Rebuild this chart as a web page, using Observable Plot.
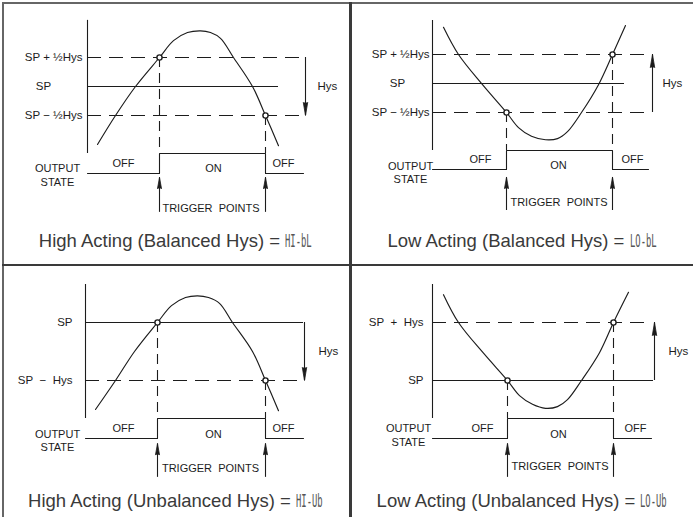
<!DOCTYPE html>
<html><head><meta charset="utf-8">
<script src="https://cdn.jsdelivr.net/npm/d3@7"></script>
<script src="https://cdn.jsdelivr.net/npm/@observablehq/plot@0.6"></script>
<style>
body{margin:0;background:#fff;}
#root{position:relative;width:693px;height:517px;overflow:hidden;font-family:"Liberation Sans",Arial,Helvetica,sans-serif;background:#fff;}
.panel{position:absolute;overflow:visible;}
.panel svg{position:absolute;left:0;top:0;overflow:visible;background:transparent;}
.cap{position:absolute;left:0;right:0;text-align:center;font-size:18.5px;line-height:20px;color:#3a3a3a;white-space:nowrap;}
.segw{display:inline-block;width:28px;text-align:left;overflow:visible;vertical-align:baseline;}
.seg{display:inline-block;font-family:"DejaVu Sans Mono",monospace;font-size:17px;font-weight:normal;transform:scaleX(0.52);transform-origin:0 50%;color:#555;}
.bar{position:absolute;background:#3a3a3a;}
</style></head><body><div id="root"></div>
<script>
// ---------- data ----------
const captions = ["High Acting (Balanced Hys) = ", "Low Acting (Balanced Hys) = ",
                  "High Acting (Unbalanced Hys) = ", "Low Acting (Unbalanced Hys) = "];
const modeCodes = ["HI-bL", "LO-bL", "HI-Ub", "LO-Ub"];

// threshold labels and their values (in Hys units relative to SP)
const levelLabelsBal = ["SP + ½Hys", "SP", "SP − ½Hys"];
const levelValuesBal = [0.5, 0, -0.5];
const levelLabelsHighUnb = ["SP", "SP\u00a0 −\u00a0 Hys"];
const levelValuesHighUnb = [0, -1];
const levelLabelsLowUnb = ["SP\u00a0 +\u00a0 Hys", "SP"];
const levelValuesLowUnb = [1, 0];

// process value curves: [time, value]
const curveHighBal = [[10,-1.0],[28,-0.5],[48,0.0],[72,0.5],[86,0.79],[100,0.93],[113,0.96],[123,0.93],[133,0.83],[146,0.5],[165,0.0],[178,-0.5],[191,-1.02]];
const curveLowBal  = [[11,0.97],[26,0.5],[50,-0.02],[74,-0.5],[86,-0.76],[99,-0.91],[113,-0.97],[125,-0.95],[135,-0.83],[149,-0.5],[166,-0.02],[180,0.5],[193,1.0]];
const curveHighUnb = [[10,-1.5],[30,-1.0],[49,-0.5],[72,0.0],[86,0.29],[100,0.43],[112,0.46],[123,0.43],[134,0.33],[147,0.0],[167,-0.5],[180,-1.0],[193,-1.52]];
const curveLowUnb  = [[11,1.48],[26,1.0],[51,0.47],[75,0.0],[87,-0.26],[100,-0.41],[113,-0.48],[125,-0.45],[135,-0.33],[149,0.0],[167,0.48],[181,1.0],[196,1.52]];

// trigger times and the threshold value reached at each trigger
const trigHighBal = [72, 178], trigLevelsHighBal = [0.5, -0.5];
const trigLowBal  = [74, 180], trigLevelsLowBal  = [-0.5, 0.5];
const trigHighUnb = [72, 180], trigLevelsHighUnb = [0, -1];
const trigLowUnb  = [75, 181], trigLevelsLowUnb  = [0, 1];

const stateNames = ["OFF", "ON", "OFF"];
const outputLabel = ["OUTPUT", "STATE"];
const triggerLabel = "TRIGGER\u00a0\u00a0POINTS";
const hysLabel = "Hys";

// ---------- layout (pixels / value-unit placements) ----------
const layouts = [
  {left:3, top:3, w:346, h:225, capTop:228, xr:[84,300], xd:[0,216], spPx:83,
   axisTop:1.14, on:-1.155, off:-1.5, dashEnd:216, solidEnd:191, outEnd:216, arrowT:218, hysT:230, labelT:-5, spT:-44,
   stateT:[36,126,196], stateV:[-1.33,-1.41,-1.33], outT:-30, outV:[-1.41,-1.655],
   trigTip:-1.57, trigBot:-2.17, trigTextT:123.5, trigTextV:-2.10},
  {left:352, top:3, w:341, h:225, capTop:228, xr:[80,298], xd:[0,218], spPx:80,
   axisTop:1.086, on:-1.155, off:-1.483, dashEnd:218, solidEnd:192, outEnd:216, arrowT:220, hysT:230, labelT:-3, spT:-35,
   stateT:[48,126,200], stateV:[-1.31,-1.41,-1.31], outT:-22, outV:[-1.43,-1.655],
   trigTip:-1.62, trigBot:-2.19, trigTextT:126.5, trigTextV:-2.05},
  {left:3, top:266, w:346, h:214, capTop:225, xr:[82,300], xd:[0,218], spPx:56,
   axisTop:0.655, on:-1.655, off:-2.0, dashEnd:218, solidEnd:218, outEnd:218, arrowT:219, hysT:233, labelT:-13, spT:null,
   stateT:[38,128,198], stateV:[-1.83,-1.93,-1.83], outT:-28, outV:[-1.93,-2.155],
   trigTip:-2.09, trigBot:-2.67, trigTextT:125, trigTextV:-2.52},
  {left:352, top:266, w:341, h:214, capTop:225, xr:[80,298], xd:[0,218], spPx:114,
   axisTop:1.655, on:-0.655, off:-1.0, dashEnd:218, solidEnd:221, outEnd:219, arrowT:222, hysT:236, labelT:-9, spT:null,
   stateT:[50,126,203], stateV:[-0.83,-0.93,-0.83], outT:-24, outV:[-0.83,-1.07],
   trigTip:-1.09, trigBot:-1.67, trigTextT:127.5, trigTextV:-1.48}
];

const panels = [
  {labels:levelLabelsBal, values:levelValuesBal, curve:curveHighBal, trig:trigHighBal, trigLevels:trigLevelsHighBal},
  {labels:levelLabelsBal, values:levelValuesBal, curve:curveLowBal, trig:trigLowBal, trigLevels:trigLevelsLowBal},
  {labels:levelLabelsHighUnb, values:levelValuesHighUnb, curve:curveHighUnb, trig:trigHighUnb, trigLevels:trigLevelsHighUnb},
  {labels:levelLabelsLowUnb, values:levelValuesLowUnb, curve:curveLowUnb, trig:trigLowUnb, trigLevels:trigLevelsLowUnb}
];

const ink = "#1c1c1c";
const root = document.getElementById("root");

function drawPanel(p, L) {
  const levels = p.labels.map((label, i) => ({label, v: p.values[i]}));
  const dashed = levels.filter(d => d.label !== "SP");
  const solid = levels.filter(d => d.label === "SP");
  const centered = L.spT !== null ? solid : [];
  const rightAligned = L.spT !== null ? dashed : levels;
  const points = p.trig.map((t, i) => ({t, v: p.trigLevels[i]}));
  const output = [{t:0, on:0}, {t:p.trig[0], on:1}, {t:p.trig[1], on:0}, {t:L.outEnd, on:0}];
  const states = stateNames.map((s, i) => ({s, t:L.stateT[i], v:L.stateV[i]}));
  const arrFrom = p.trigLevels[0], arrTo = p.trigLevels[1];
  const arrowDown = arrTo < arrFrom;
  const txt = {fill: ink, fontSize: 11.5};

  return Plot.plot({
    width: L.w, height: L.h,
    x: {domain: L.xd, range: L.xr, axis: null},
    y: {domain: [-1, 1], range: [L.spPx + 58, L.spPx - 58], axis: null},
    style: {fontFamily: "'Liberation Sans', Arial, sans-serif", background: "transparent", overflow: "visible", color: ink},
    marks: [
      // vertical axis of the process plot
      Plot.ruleX([0], {y1: L.axisTop, y2: L.on, stroke: ink, strokeWidth: 1.1}),
      // threshold lines
      Plot.ruleY(dashed, {y: "v", x1: 0, x2: L.dashEnd, stroke: ink, strokeWidth: 1.1, strokeDasharray: "14,8"}),
      Plot.ruleY(solid, {y: "v", x1: 0, x2: L.solidEnd, stroke: ink, strokeWidth: 1.1}),
      // threshold labels
      Plot.text(rightAligned, {x: L.labelT, y: "v", text: "label", textAnchor: "end", ...txt}),
      Plot.text(centered, {x: L.spT ?? 0, y: "v", text: "label", textAnchor: "middle", ...txt}),
      // hysteresis arrow
      Plot.ruleX([L.arrowT], {y1: arrFrom, y2: arrTo, stroke: ink, strokeWidth: 1.1}),
      Plot.vector([{t: L.arrowT, v: arrTo}], {x: "t", y: "v", shape: "spike", anchor: "end",
        rotate: arrowDown ? 180 : 0, length: 13, r: 2.2, fill: ink, stroke: ink, strokeWidth: 0.8}),
      Plot.text([hysLabel], {x: L.hysT, y: (arrFrom + arrTo) / 2, text: d => d, textAnchor: "start", ...txt}),
      // dashed drop lines from trigger points to the output step
      Plot.ruleX(points, {x: "t", y1: "v", y2: L.on, stroke: ink, strokeWidth: 1.1, strokeDasharray: "10,6"}),
      // process curve
      Plot.line(p.curve, {x: d => d[0], y: d => d[1], curve: "catmull-rom", stroke: ink, strokeWidth: 1.15}),
      // trigger circles
      Plot.dot(points, {x: "t", y: "v", r: 2.6, stroke: ink, strokeWidth: 1.4, fill: "#fff"}),
      // output state step
      Plot.line(output, {x: "t", y: d => d.on ? L.on : L.off, curve: "step-after", stroke: ink, strokeWidth: 1.1}),
      Plot.text(states, {x: "t", y: "v", text: "s", ...txt, fontSize: 11}),
      Plot.text(outputLabel, {x: L.outT, y: (d, i) => L.outV[i], text: d => d, ...txt, fontSize: 11}),
      // trigger arrows
      Plot.ruleX(p.trig, {x: d => d, y1: L.trigBot, y2: L.trigTip, stroke: ink, strokeWidth: 1.1}),
      Plot.vector(p.trig, {x: d => d, y: L.trigTip, shape: "spike", anchor: "end", rotate: 0,
        length: 11, r: 2, fill: ink, stroke: ink, strokeWidth: 0.8}),
      Plot.text([triggerLabel], {x: L.trigTextT, y: L.trigTextV, text: d => d, ...txt, fontSize: 11})
    ]
  });
}

panels.forEach((p, i) => {
  const L = layouts[i];
  const div = document.createElement("div");
  div.className = "panel";
  Object.assign(div.style, {left: L.left + "px", top: L.top + "px", width: L.w + "px", height: "262px"});
  div.appendChild(drawPanel(p, L));
  const cap = document.createElement("div");
  cap.className = "cap";
  cap.style.top = L.capTop + "px";
  cap.append(captions[i]);
  const w = document.createElement("span"); w.className = "segw";
  const s = document.createElement("span"); s.className = "seg"; s.textContent = modeCodes[i];
  w.appendChild(s); cap.appendChild(w);
  div.appendChild(cap);
  root.appendChild(div);
});

// frame lines
[[2, 2, 1.6, 515, "#666"], [2, 2, 691, 1.6, "#666"], [349, 2, 3, 515, "#3a3a3a"], [2, 263.5, 691, 2.5, "#3a3a3a"]]
  .forEach(([l, t, w, h, c]) => {
    const b = document.createElement("div"); b.className = "bar";
    Object.assign(b.style, {left: l + "px", top: t + "px", width: w + "px", height: h + "px", background: c});
    root.appendChild(b);
  });
</script></body></html>
